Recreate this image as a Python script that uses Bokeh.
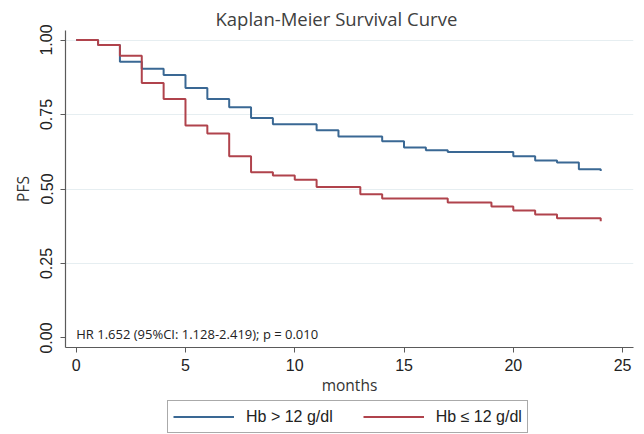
from bokeh.plotting import figure
from bokeh.layouts import column
from bokeh.models import (Legend, LegendItem, Label, FixedTicker, Range1d)
from bokeh.embed import file_html
from bokeh.resources import INLINE

# Data
t_high = [0, 1, 2, 3, 4, 5, 6, 7, 8, 9, 11, 12, 14, 15, 16, 17, 20, 21, 22, 23, 24]
s_high = [1.0, 0.983, 0.927, 0.904, 0.883, 0.839, 0.802, 0.774, 0.738, 0.717, 0.697,
          0.676, 0.66, 0.639, 0.63, 0.624, 0.61, 0.596, 0.589, 0.566, 0.56]
t_low = [0, 1, 2, 3, 4, 5, 6, 7, 8, 9, 10, 11, 13, 14, 17, 19, 20, 21, 22, 24]
s_low = [1.0, 0.983, 0.947, 0.856, 0.802, 0.713, 0.686, 0.61, 0.556, 0.545, 0.531,
         0.507, 0.482, 0.468, 0.455, 0.441, 0.428, 0.414, 0.402, 0.392]
x_ticks = [0, 5, 10, 15, 20, 25]
y_ticks = [0, 0.25, 0.5, 0.75, 1.0]
y_tick_labels = ["0.00", "0.25", "0.50", "0.75", "1.00"]
label_high = "Hb > 12 g/dl"
label_low = "Hb \u2264 12 g/dl"
title_text = "Kaplan-Meier Survival Curve"
hr_text = "HR 1.652 (95%CI: 1.128-2.419); p = 0.010"

BLUE = "#3a6894"
RED = "#b0434c"
SANS = "Open Sans"
ARIAL = "Liberation Sans"

p = figure(width=644, height=398, output_backend="svg", toolbar_location=None,
           x_range=Range1d(-0.49, 25.5), y_range=Range1d(-0.032, 1.032),
           min_border_left=65, min_border_right=11, min_border_top=30,
           min_border_bottom=49)
p.outline_line_color = None
p.background_fill_color = "white"
p.border_fill_color = "white"

p.title.text = title_text
p.title.text_font = SANS
p.title.text_font_size = "18.5px"
p.title.text_font_style = "normal"
p.title.text_color = "#404040"
p.title.align = "left"
p.title.offset = 150
p.title.standoff = 0

r_high = p.step(t_high, s_high, mode="after", line_color=BLUE, line_width=2)
r_low = p.step(t_low, s_low, mode="after", line_color=RED, line_width=2)

# axes
p.xaxis.ticker = FixedTicker(ticks=x_ticks)
p.yaxis.ticker = FixedTicker(ticks=y_ticks)
p.yaxis.major_label_overrides = {v: l for v, l in zip(y_ticks, y_tick_labels)}
p.yaxis.major_label_orientation = "vertical"
for ax in (p.xaxis[0], p.yaxis[0]):
    ax.axis_line_color = "#5a5a5a"
    ax.axis_line_width = 1.2
    ax.major_tick_line_color = "#5a5a5a"
    ax.major_tick_out = 5
    ax.major_tick_in = 0
    ax.minor_tick_line_color = None
    ax.major_label_text_font = ARIAL
    ax.major_label_text_font_size = "16px"
    ax.major_label_text_color = "#222222"
    ax.axis_label_text_font = SANS
    ax.axis_label_text_font_size = "15.5px"
    ax.axis_label_text_font_style = "normal"
    ax.axis_label_text_color = "#333333"
p.xaxis.axis_label = "months"
p.yaxis.axis_label = "PFS"
p.xaxis.major_label_standoff = 6
p.xaxis.axis_label_standoff = 0
p.yaxis.major_label_standoff = 8
p.yaxis.axis_label_standoff = 4

p.xgrid.grid_line_color = None
p.ygrid.ticker = FixedTicker(ticks=[0.25, 0.5, 0.75, 1.0])
p.ygrid.grid_line_color = "#e6eef1"
p.ygrid.grid_line_width = 1.2

# annotation
p.add_layout(Label(x=0, y=0.013, text=hr_text, text_font=SANS,
                   text_font_size="13px", text_color="#222222",
                   text_baseline="middle", text_align="left"))

# legend in a strip below the chart (series drawn out of view, only keys shown)
lg = figure(width=644, height=36, output_backend="svg", toolbar_location=None,
            x_range=Range1d(100, 101), y_range=Range1d(100, 101),
            x_axis_type=None, y_axis_type=None,
            min_border_left=0, min_border_right=0, min_border_top=0,
            min_border_bottom=0)
lg.outline_line_color = None
lg.xgrid.visible = False
lg.ygrid.visible = False
d_high = lg.line(t_high, s_high, line_color=BLUE, line_width=2)
d_low = lg.line(t_low, s_low, line_color=RED, line_width=2)

legend = Legend(items=[LegendItem(label=label_high, renderers=[d_high]),
                       LegendItem(label=label_low, renderers=[d_low])],
                orientation="horizontal", location=(102, 1),
                label_text_font=ARIAL, label_text_font_size="16px",
                label_text_color="#222222",
                glyph_width=61, glyph_height=21, label_height=21,
                label_standoff=12, spacing=30, padding=5, margin=0,
                border_line_color="#555555", border_line_width=1,
                background_fill_color="white", background_fill_alpha=1)
lg.add_layout(legend, "center")

layout = column(p, lg, spacing=0)
open("out.html", "w").write(file_html(layout, INLINE))
